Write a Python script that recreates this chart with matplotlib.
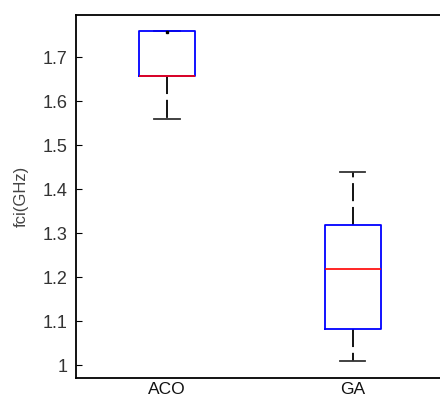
import matplotlib
matplotlib.use("Agg")
import matplotlib.pyplot as plt

# box statistics
labels = ["ACO", "GA"]
q1 = [1.657, 1.082]
median = [1.657, 1.219]
q3 = [1.759, 1.319]
whislo = [1.559, 1.009]
whishi = [1.759, 1.440]
dot_x = [1]
dot_y = [1.757]

yticks = [1.0, 1.1, 1.2, 1.3, 1.4, 1.5, 1.6, 1.7]
ytick_labels = ["1", "1.1", "1.2", "1.3", "1.4", "1.5", "1.6", "1.7"]

plt.rcParams['font.family'] = ['Liberation Sans', 'DejaVu Sans']

fig = plt.figure(figsize=(4.4, 3.96), dpi=100)
ax = fig.add_axes([0.1727, 0.0455, 0.836, 0.917])

stats = []
for i in range(len(labels)):
    stats.append({"label": labels[i], "q1": q1[i], "med": median[i], "q3": q3[i],
                  "whislo": whislo[i], "whishi": whishi[i], "fliers": []})

ax.bxp(stats, positions=[1, 2], widths=0.3, showfliers=False,
       boxprops=dict(color="#0000ff", linewidth=1.3, zorder=3),
       medianprops=dict(color="#ff0000", linewidth=1.2, zorder=4),
       whiskerprops=dict(color="black", linewidth=1.3, linestyle=(0, (10, 3.2)), zorder=1),
       capprops=dict(color="#333333", linewidth=1.3, zorder=1),
       capwidths=0.135)

ax.plot(dot_x, dot_y, marker="s", markersize=2, color="black", linestyle="none", zorder=5)

ax.set_xlim(0.51, 2.49)
ax.set_ylim(0.971, 1.796)
ax.set_yticks(yticks)
ax.set_yticklabels(ytick_labels)
ax.tick_params(axis="y", direction="in", length=4, pad=6, labelsize=13,
               colors="black", labelcolor="#333333")
ax.tick_params(axis="x", length=0, pad=3, labelsize=12.5, labelcolor="#111111")
ax.set_ylabel("fci(GHz)", fontsize=12, color="#444444", labelpad=10)

for s in ["top", "bottom", "left", "right"]:
    ax.spines[s].set_linewidth(1.3)

fig.savefig("out.png", dpi=100)
